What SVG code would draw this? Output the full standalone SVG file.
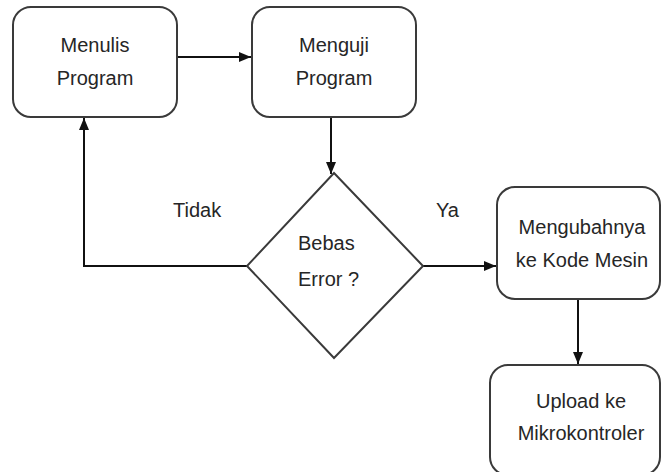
<svg xmlns="http://www.w3.org/2000/svg" width="662" height="472" viewBox="0 0 662 472">
  <style>
    .box { fill: #ffffff; stroke: #3a3a3a; stroke-width: 2; }
    .edge { fill: none; stroke: #111111; stroke-width: 2; }
    .label { font-family: "Liberation Sans", Arial, sans-serif; font-size: 20px; fill: #262626; }
    .mid { text-anchor: middle; }
  </style>
  <defs>
    <marker id="arrow" markerUnits="userSpaceOnUse" markerWidth="12" markerHeight="12" viewBox="0 0 12 12" refX="12" refY="6" orient="auto">
      <path d="M0,1 L12,6 L0,11 Z" fill="#111111"/>
    </marker>
  </defs>
  <rect width="662" height="472" fill="#ffffff"/>

  <!-- connectors -->
  <g id="connectors">
    <line class="edge" x1="177" y1="57" x2="251" y2="57" marker-end="url(#arrow)"/>
    <line class="edge" x1="331" y1="117" x2="331" y2="174" marker-end="url(#arrow)"/>
    <polyline class="edge" points="247,266 84,266 84,118" marker-end="url(#arrow)"/>
    <line class="edge" x1="423" y1="266" x2="496" y2="266" marker-end="url(#arrow)"/>
    <line class="edge" x1="578" y1="299" x2="578" y2="364" marker-end="url(#arrow)"/>
    <text class="label" x="173" y="217">Tidak</text>
    <text class="label" x="436" y="217">Ya</text>
  </g>

  <!-- process: write program -->
  <g id="menulis">
    <rect class="box" x="13" y="7" width="164" height="110" rx="18" ry="18"/>
    <text class="label mid" x="95" y="52">Menulis</text>
    <text class="label mid" x="95" y="85">Program</text>
  </g>

  <!-- process: test program -->
  <g id="menguji">
    <rect class="box" x="252" y="7" width="164" height="110" rx="18" ry="18"/>
    <text class="label mid" x="334" y="52">Menguji</text>
    <text class="label mid" x="334" y="85">Program</text>
  </g>

  <!-- decision: error free? -->
  <g id="bebas-error">
    <polygon class="box" points="334,173 423,266 334,358 247,266"/>
    <text class="label" x="298" y="250">Bebas</text>
    <text class="label" x="298" y="286">Error ?</text>
  </g>

  <!-- process: convert to machine code -->
  <g id="mengubah">
    <rect class="box" x="497" y="187" width="163" height="112" rx="18" ry="18"/>
    <text class="label mid" x="582" y="234">Mengubahnya</text>
    <text class="label mid" x="582" y="267">ke Kode Mesin</text>
  </g>

  <!-- process: upload to microcontroller -->
  <g id="upload">
    <rect class="box" x="490" y="365" width="170" height="110" rx="18" ry="18"/>
    <text class="label mid" x="581" y="408">Upload ke</text>
    <text class="label mid" x="581" y="440">Mikrokontroler</text>
  </g>
</svg>
